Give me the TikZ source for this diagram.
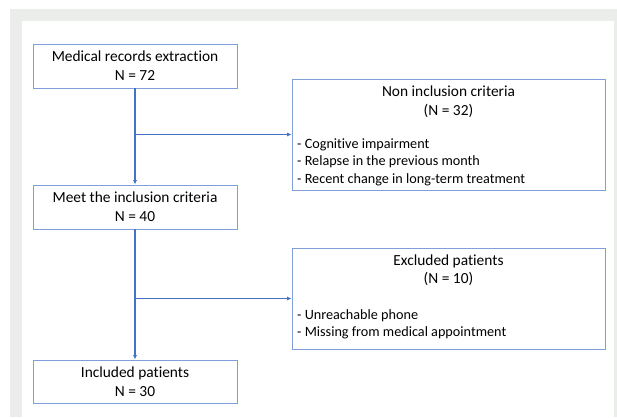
\documentclass[tikz,border=0pt]{standalone}
\usepackage{fontspec}
\setmainfont[Ligatures={NoCommon}]{Carlito}
\usetikzlibrary{arrows.meta}
\definecolor{frame}{HTML}{EBEDEB}
\definecolor{boxline}{HTML}{7F9FD8}
\definecolor{arrowc}{HTML}{4472C4}
\tikzset{
  box/.style={draw=boxline, line width=0.9pt, rectangle, inner sep=0pt, align=center,
    font=\fontsize{15.4}{19}\selectfont},
  txt/.style={inner sep=0pt, font=\fontsize{15.4}{19}\selectfont},
  arr/.style={draw=arrowc, line width=1.1pt, -{Latex[length=4.5pt,width=4pt]}}
}
\begin{document}
\begin{tikzpicture}[x=1pt,y=-1pt]
\useasboundingbox (0,0) rectangle (617,417);
\fill[white] (0,0) rectangle (617,417);
\fill[frame] (10,9) rectangle (617,417);
\fill[white] (22,21) rectangle (614,417);

\node[box, minimum width=204pt, minimum height=44pt] (b1) at (135,66)
  {Medical records extraction\\N = 72};
\node[box, minimum width=204pt, minimum height=44pt] (b3) at (135,207)
  {Meet the inclusion criteria\\N = 40};
\node[box, minimum width=204pt, minimum height=43pt] (b5) at (135,381.5)
  {Included patients\\N = 30};

\node[box, minimum width=313pt, minimum height=111pt] (b2) at (448.5,134.5) {};
\node[txt, align=center, font=\fontsize{15.4}{19.3}\selectfont] (t2) at (448.5,101.5)
  {Non inclusion criteria\\(N = 32)};
\node[txt, align=left, anchor=west, font=\fontsize{14.2}{17.2}\selectfont] (l2) at (297,162.3)
  {- Cognitive impairment\\- Relapse in the previous month\\- Recent change in long-term treatment};

\node[box, minimum width=313pt, minimum height=101pt] (b4) at (448.5,298.5) {};
\node[txt, align=center, font=\fontsize{15.4}{17.7}\selectfont] (t4) at (448.5,270.5)
  {Excluded patients\\(N = 10)};
\node[txt, align=left, anchor=west, font=\fontsize{14.2}{16.7}\selectfont] (l4) at (297,324.5)
  {- Unreachable phone\\- Missing from medical appointment};

\coordinate (j1) at (b1.south |- b2.west);
\coordinate (j2) at (b3.south |- b4.west);

\draw[arr] (b1.south) -- (b3.north);
\draw[arr] (j1) -- (b2.west);
\draw[arr] (b3.south) -- (b5.north);
\draw[arr] (j2) -- (b4.west);
\end{tikzpicture}
\end{document}
